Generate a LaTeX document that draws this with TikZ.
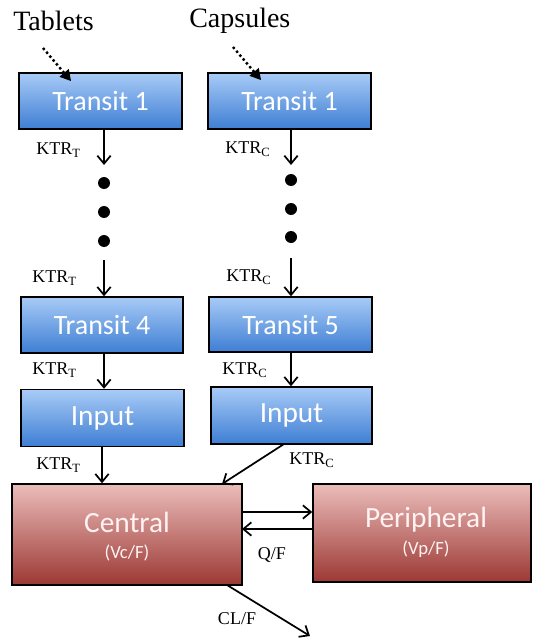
\documentclass[tikz,border=0pt]{standalone}
\usepackage{fontspec}
\setmainfont{Liberation Serif}
\newfontfamily\boxfont{Carlito}
\usetikzlibrary{arrows.meta,calc}
\definecolor{bluetop}{HTML}{A8CBF7}
\definecolor{bluebot}{HTML}{3E7ED3}
\definecolor{redtop}{HTML}{EBBDBA}
\definecolor{redbot}{HTML}{9C3834}
\tikzset{
  bluebox/.style={draw=black, line width=1.1pt, top color=bluetop, bottom color=bluebot, text=white, inner sep=0pt, font=\boxfont\fontsize{21}{24}\selectfont},
  redbox/.style={draw=black, line width=1.1pt, top color=redtop, bottom color=redbot, inner sep=0pt},
  bigtxt/.style={text=white!95!red, font=\boxfont\fontsize{22}{24}\selectfont, inner sep=0pt},
  subtxt/.style={text=white!95!red, font=\boxfont\fontsize{14}{16}\selectfont, inner sep=0pt},
  lbl/.style={font=\fontsize{13.5}{15}\selectfont, inner sep=0pt},
  title/.style={font=\fontsize{21}{24}\selectfont, inner sep=0pt, anchor=west},
  arr/.style={line width=1.3pt, -{Straight Barb[length=6pt,width=10pt,line width=1.3pt]}},
  dotline/.style={line width=1.8pt, dotted, shorten >=6pt},
  dottip/.style={line width=0.8pt, -{Triangle[length=8pt,width=9pt]}},
  bigdot/.style={circle, fill=black, inner sep=0pt, minimum size=9pt}
}
\begin{document}
\begin{tikzpicture}[x=0.75pt,y=-0.75pt]
\useasboundingbox (0,0) rectangle (532,638);

% titles
\node[title] (tab) at (13,21) {Tablets};
\node[title] (cap) at (189,21) {Capsules};

% blue boxes
\node[bluebox, minimum width=122.25pt, minimum height=42pt] (T1) at (100.5,101) {Transit 1};
\node[bluebox, minimum width=122.25pt, minimum height=42pt] (C1) at (289.5,101) {Transit 1};
\node[bluebox, minimum width=121.5pt, minimum height=42pt] (T4) at (102,325) {Transit 4};
\node[bluebox, minimum width=122.25pt, minimum height=41.25pt] (C5) at (290.5,324.5) {Transit 5};
\node[bluebox, font=\boxfont\fontsize{22}{24}\selectfont, minimum width=122.25pt, minimum height=42.75pt] (IT) at (102.5,418) {Input};
\node[bluebox, font=\boxfont\fontsize{22}{24}\selectfont, minimum width=120.75pt, minimum height=42.75pt] (IC) at (291.5,415.5) {Input};

% dotted dose arrows
\coordinate (tabs) at (43,48);
\coordinate (caps) at (233,47);
\coordinate (tabe) at (71,81);
\coordinate (cape) at (261,80);
\draw[dotline] (tabs) -- (tabe);
\draw[dottip] ($(tabs)!0.75!(tabe)$) -- (tabe);
\draw[dotline] (caps) -- (cape);
\draw[dottip] ($(caps)!0.75!(cape)$) -- (cape);

% red boxes
\node[redbox, minimum width=172.5pt, minimum height=75.75pt] (CEN) at (127,534.5) {};
\node[redbox, minimum width=163.5pt, minimum height=73.5pt] (PER) at (422,533) {};
\node[bigtxt] (cent) at (127,522) {Central};
\node[subtxt] (cens) at (127,553) {(Vc/F)};
\node[bigtxt] (pert) at (426,520) {Peripheral};
\node[subtxt] (pers) at (426,549) {(Vp/F)};

% dots
\node[bigdot] (td1) at (104,183) {};
\node[bigdot] (td2) at (104,212) {};
\node[bigdot] (td3) at (104,241) {};
\node[bigdot] (cd1) at (291,180) {};
\node[bigdot] (cd2) at (291,209) {};
\node[bigdot] (cd3) at (291,237) {};

% tablet column arrows
\coordinate (ta1) at (104,165);
\coordinate (ta2) at (104,260);
\draw[arr] (T1.south -| ta1) -- (ta1);
\draw[arr] (ta2) -- (T4.north -| ta2);
\draw[arr] (T4.south -| ta2) -- (IT.north -| ta2);
\coordinate (ta3) at (102,447);
\draw[arr] (IT.south -| ta3) -- (CEN.north -| ta3);

% capsule column arrows
\coordinate (ca1) at (291,165);
\coordinate (ca2) at (291,258);
\draw[arr] (C1.south -| ca1) -- (ca1);
\draw[arr] (ca2) -- (C5.north -| ca2);
\draw[arr] (C5.south -| ca2) -- (IC.north -| ca2);
\coordinate (ica) at (284,444);
\coordinate (cena) at (222,484);
\draw[arr] (ica) -- (cena);

% central <-> peripheral
\coordinate (cp1) at (242,512);
\coordinate (cp2) at (242,529);
\draw[arr] (cp1) -- (PER.west |- cp1);
\draw[arr] (PER.west |- cp2) -- (cp2);

% elimination
\coordinate (cls) at (227,585);
\coordinate (cle) at (310,636);
\draw[arr] (cls) -- (cle);

% labels
\node[lbl, anchor=west] (k1) at (36,150) {KTR\textsubscript{T}};
\node[lbl, anchor=west] (k2) at (32,278) {KTR\textsubscript{T}};
\node[lbl, anchor=west] (k3) at (32,370) {KTR\textsubscript{T}};
\node[lbl, anchor=west] (k4) at (36,465) {KTR\textsubscript{T}};
\node[lbl, anchor=west] (c1) at (225,149) {KTR\textsubscript{C}};
\node[lbl, anchor=west] (c2) at (226,277) {KTR\textsubscript{C}};
\node[lbl, anchor=west] (c3) at (222,370) {KTR\textsubscript{C}};
\node[lbl, anchor=west] (c4) at (289,460) {KTR\textsubscript{C}};
\node[lbl] (qf) at (272,555) {Q/F};
\node[lbl] (clf) at (237,619) {CL/F};
\end{tikzpicture}
\end{document}
